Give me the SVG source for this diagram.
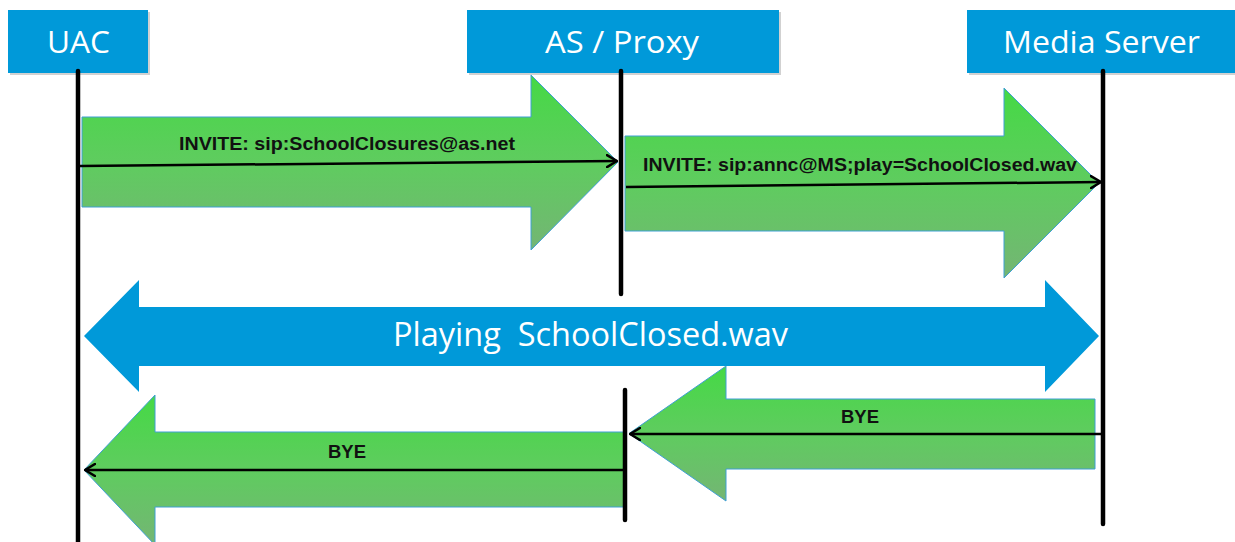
<svg xmlns="http://www.w3.org/2000/svg" width="1235" height="542" viewBox="0 0 1235 542">
  <defs>
    <linearGradient id="green" x1="0" y1="0" x2="0" y2="1">
      <stop offset="0" stop-color="#45d945"/>
      <stop offset="0.5" stop-color="#5fcc5f"/>
      <stop offset="1" stop-color="#74b574"/>
    </linearGradient>
    <marker id="open" viewBox="0 0 12 14" refX="11" refY="7" markerWidth="12" markerHeight="14" markerUnits="userSpaceOnUse" orient="auto">
      <path d="M1,1 L11,7 L1,13" fill="none" stroke="#000" stroke-width="2.5" stroke-linecap="round" stroke-linejoin="round"/>
    </marker>
    <style>
      .hdr { fill: #0099d9; }
      .shadow { fill: #000; opacity: 0.18; }
      .hdrtxt { font-family: "Open Sans", "Noto Sans", sans-serif; font-size: 31px; fill: #fff; text-anchor: middle; }
      .garrow { fill: url(#green); stroke: #3f9fd4; stroke-width: 1; }
      .barrow { fill: #0099d9; }
      .lbl { font-family: "Liberation Sans", Arial, sans-serif; font-weight: bold; font-size: 18px; fill: #111; text-anchor: middle; }
      .btxt { font-family: "Open Sans", "Noto Sans", sans-serif; font-size: 32px; fill: #fff; text-anchor: middle; white-space: pre; }
      .life { stroke: #000; stroke-width: 4.5; stroke-linecap: round; fill: none; }
      .msg { stroke: #000; stroke-width: 2.5; fill: none; marker-end: url(#open); }
    </style>
  </defs>

  <g id="node-uac">
    <rect class="shadow" x="10" y="12" width="140" height="63"/>
    <rect class="hdr" x="8" y="10" width="140" height="63"/>
    <text class="hdrtxt" x="78.5" y="53" textLength="63" lengthAdjust="spacingAndGlyphs">UAC</text>
  </g>
  <g id="node-as-proxy">
    <rect class="shadow" x="469" y="12" width="312" height="63"/>
    <rect class="hdr" x="467" y="10" width="312" height="63"/>
    <text class="hdrtxt" x="622" y="53" textLength="154" lengthAdjust="spacingAndGlyphs">AS / Proxy</text>
  </g>
  <g id="node-media-server">
    <rect class="shadow" x="969" y="12" width="270" height="63"/>
    <rect class="hdr" x="967" y="10" width="270" height="63"/>
    <text class="hdrtxt" x="1101.5" y="53" textLength="197" lengthAdjust="spacingAndGlyphs">Media Server</text>
  </g>

  <g id="messages">
    <g id="msg-invite-1">
      <polygon class="garrow" points="82,117 531,117 531,75 618,162 531,250 531,207 82,207"/>
      <text class="lbl" x="347" y="150" textLength="336" lengthAdjust="spacingAndGlyphs">INVITE: sip:SchoolClosures@as.net</text>
    </g>
    <g id="msg-invite-2">
      <polygon class="garrow" points="625,136 1004,136 1004,88 1099,183 1004,278 1004,231 625,231"/>
      <text class="lbl" x="860" y="171" textLength="434" lengthAdjust="spacingAndGlyphs">INVITE: sip:annc@MS;play=SchoolClosed.wav</text>
    </g>
    <g id="msg-playing">
      <polygon class="barrow" points="84,336 139,280 139,307 1045,307 1045,280 1099,336 1045,392 1045,366 139,366 139,392"/>
      <text class="btxt" x="590.5" y="346" textLength="395" lengthAdjust="spacingAndGlyphs" xml:space="preserve">Playing  SchoolClosed.wav</text>
    </g>
    <g id="msg-bye-1">
      <polygon class="garrow" points="629,433.5 726,366 726,399 1095,399 1095,469 726,469 726,501"/>
      <text class="lbl" x="860" y="423" textLength="38" lengthAdjust="spacingAndGlyphs">BYE</text>
    </g>
    <g id="msg-bye-2">
      <polygon class="garrow" points="84,470 155,395 155,432 624,432 624,507 155,507 155,545"/>
      <text class="lbl" x="347" y="458" textLength="38" lengthAdjust="spacingAndGlyphs">BYE</text>
    </g>
  </g>

  <g id="lifelines">
    <line class="life" x1="78" y1="71" x2="78" y2="545"/>
    <line class="life" x1="621" y1="71" x2="621" y2="294"/>
    <line class="life" x1="625" y1="390" x2="625" y2="520"/>
    <line class="life" x1="1103" y1="71" x2="1103" y2="524"/>
  </g>

  <g id="connectors">
    <line class="msg" x1="80" y1="166" x2="617" y2="161"/>
    <line class="msg" x1="626" y1="187" x2="1101" y2="182"/>
    <line class="msg" x1="1103" y1="434" x2="630" y2="434"/>
    <line class="msg" x1="624" y1="470" x2="85" y2="470"/>
  </g>
</svg>
